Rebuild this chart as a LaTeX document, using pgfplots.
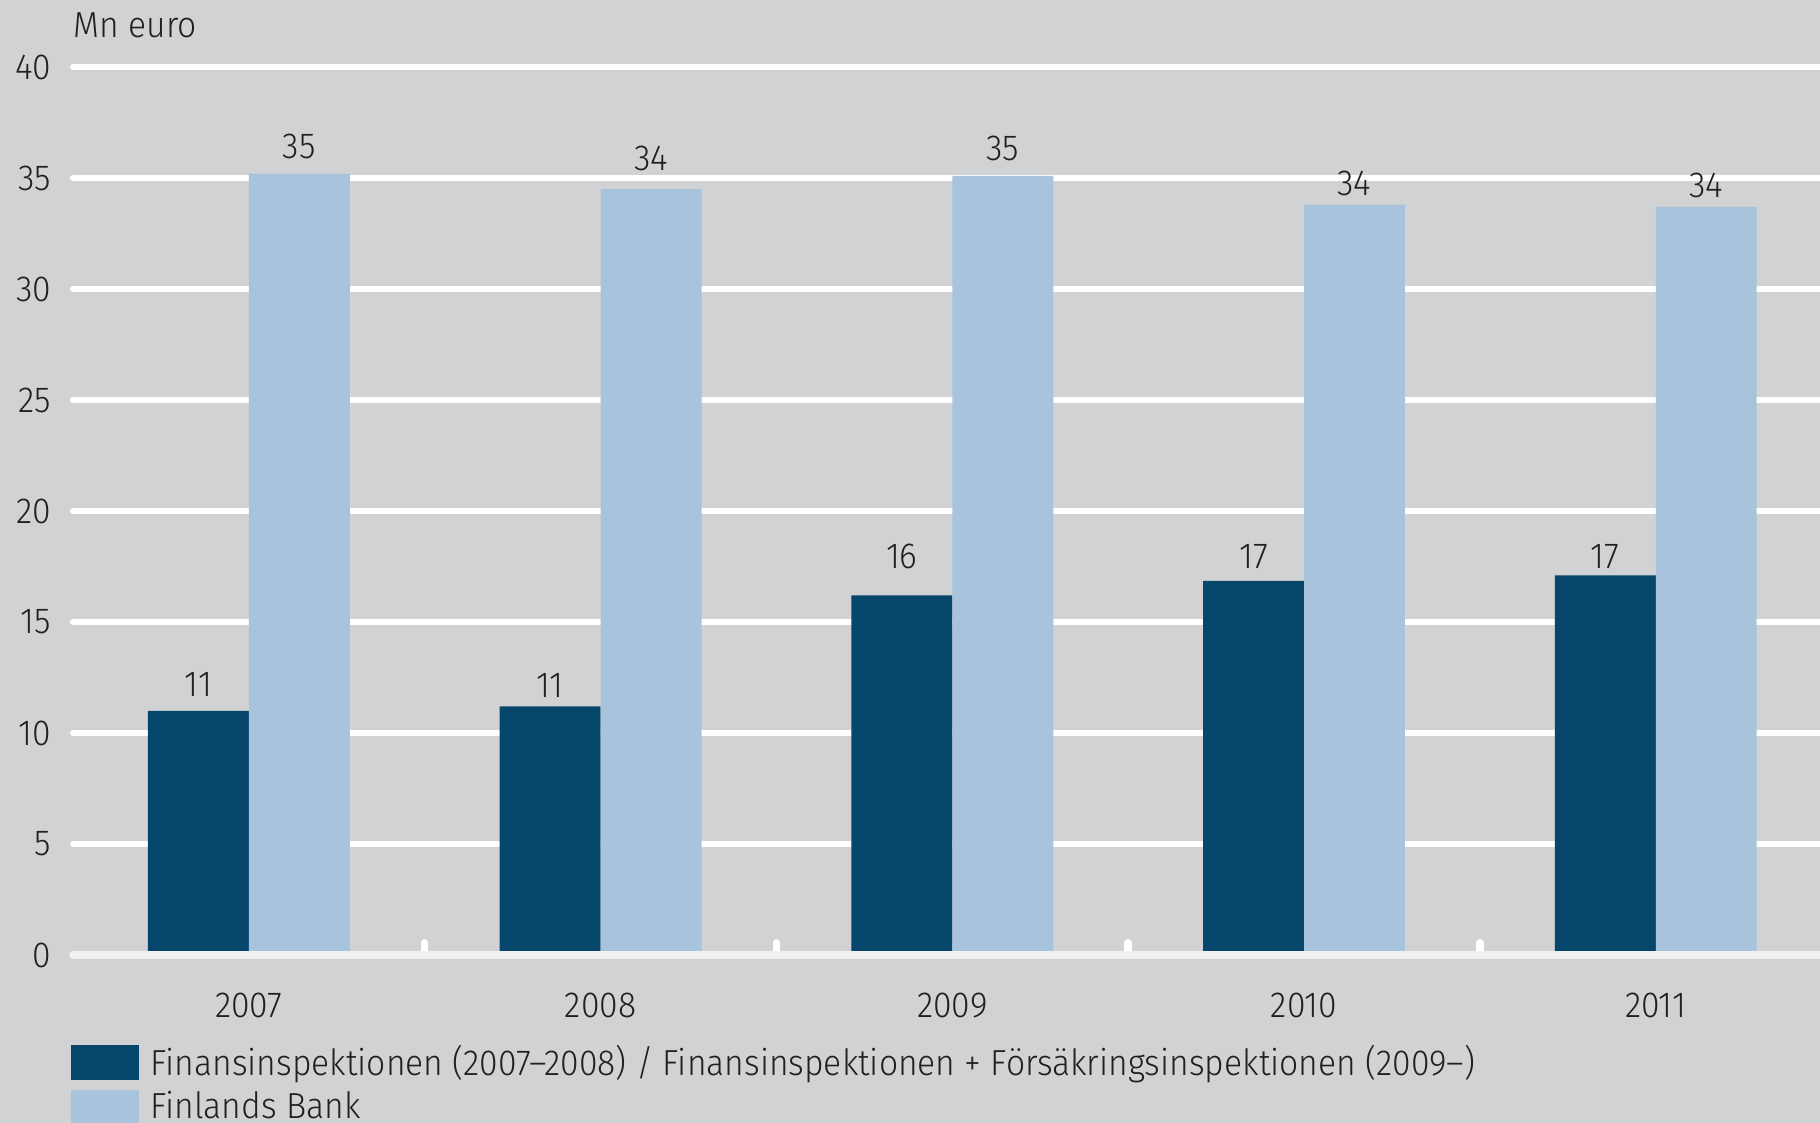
\documentclass[border=0pt]{standalone}
\usepackage{fontspec}
\setmainfont{Fira Sans}[UprightFont=* Light, FakeStretch=0.93]
\usepackage{pgfplots}
\usepackage{pgfplotstable}
\pgfplotsset{compat=1.18}
\definecolor{bg}{HTML}{D1D2D4}
\definecolor{darkbar}{HTML}{06466B}
\definecolor{lightbar}{HTML}{A7C4DC}
\definecolor{zeroline}{HTML}{F0F1F3}
\definecolor{txt}{HTML}{231F20}

\pgfplotstableread{
x fi fb
0 11.0 35.2
1 11.2 34.5
2 16.2 35.1
3 16.85 33.8
4 17.1 33.7
}\data

\begin{document}
\fontsize{10.3}{12}\selectfont
\begin{tikzpicture}
\fill[bg] (-7.3mm,-16.8mm) rectangle (174.7mm,95.5mm);
\begin{axis}[
  at={(0,0)}, anchor=south west,
  scale only axis,
  width=174.7mm, height=91.02mm,
  xmin=-0.5, xmax=4.467, ymin=0, ymax=41,
  clip=false,
  ybar=0pt, bar width=0.287,
  axis line style={draw=none},
  major tick length=0pt,
  tick style={draw=none},
  ytick={0,5,...,40},
  xtick={0,1,2,3,4},
  xticklabels={2007,2008,2009,2010,2011},
  ymajorgrids,
  grid style={white, line width=0.6mm, line cap=round},
  /pgf/number format/assume math mode=true,
  ticklabel style={font=\fontsize{10.3}{12}\selectfont, text=txt},
  yticklabel style={anchor=east, inner sep=0pt, xshift=-2.1mm},
  xticklabel style={anchor=north, inner sep=0pt, yshift=-3.7mm},
  legend style={at={(axis description cs:0,0)}, anchor=north west,
    xshift=-0.2mm, yshift=-9.0mm, draw=none, fill=none,
    inner sep=0pt, outer sep=0pt, row sep=0.9mm, column sep=1.17mm,
    font=\fontsize{10.3}{12}\selectfont, text=txt,
    nodes={inner sep=0pt, anchor=west}},
  legend cell align=left,
]
\addplot[fill=darkbar, draw=none,
  legend image code/.code={\fill[darkbar] (0mm,-1.75mm) rectangle (6.8mm,1.75mm);}]
  table[x=x, y=fi] {\data};
\addplot[fill=lightbar, draw=none,
  legend image code/.code={\fill[lightbar] (0mm,-1.75mm) rectangle (6.8mm,1.75mm);}]
  table[x=x, y=fb] {\data};
\addlegendentry{Finansinspektionen (2007--2008) / Finansinspektionen + Försäkringsinspektionen (2009--)}
\addlegendentry{Finlands Bank}

% separators
\pgfplotsinvokeforeach{0.5,1.5,2.5,3.5}{
  \draw[white, line width=0.75mm, line cap=round] (axis cs:#1,0) -- (axis cs:#1,0.55);
}
% zero line
\draw[zeroline, line width=0.77mm, line cap=round] (axis cs:-0.5,0) -- (axis cs:4.6,0);

% value labels
\begin{scope}[every node/.style={anchor=base, inner sep=0pt, text=txt, font=\fontsize{10.3}{12}\selectfont}]
\node at (axis cs:-0.1435,11.65) {11};
\node at (axis cs:0.1435,35.89) {35};
\node at (axis cs:0.8565,11.58) {11};
\node at (axis cs:1.1435,35.36) {34};
\node at (axis cs:1.8565,17.39) {16};
\node at (axis cs:2.1435,35.8) {35};
\node at (axis cs:2.8565,17.39) {17};
\node at (axis cs:3.1435,34.2) {34};
\node at (axis cs:3.8565,17.39) {17};
\node at (axis cs:4.1435,34.1) {34};
\end{scope}
\node[anchor=base west, inner sep=0pt, text=txt] at (axis cs:-0.5,41.32) {Mn euro};
\end{axis}
\pgfresetboundingbox
\path (-7.3mm,-16.8mm) rectangle (174.7mm,95.5mm);
\end{tikzpicture}
\end{document}
